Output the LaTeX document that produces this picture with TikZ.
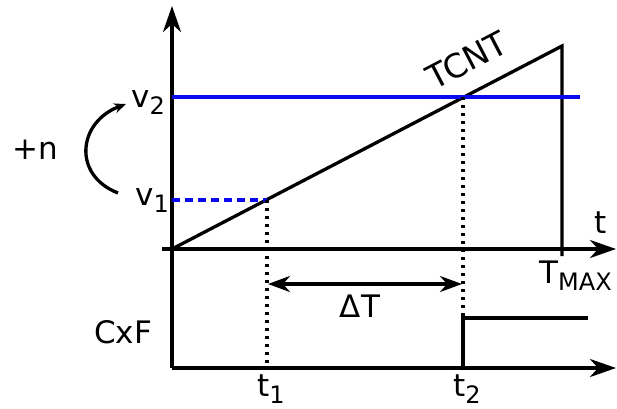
\documentclass[tikz,border=0pt]{standalone}
\usepackage{fontspec}
\setmainfont{DejaVu Sans}
\usetikzlibrary{arrows.meta,positioning}
\definecolor{level}{HTML}{0A0AF0}
\newcommand{\lowidx}[2]{#1{\fontsize{24}{24}\selectfont\raisebox{-7pt}{#2}}}
\tikzset{
  axis/.style={line width=3.4pt,-{Stealth[length=26pt,width=18pt,inset=8pt]}},
  trace/.style={line width=3.3pt},
  guide/.style={line width=3.2pt,dash pattern=on 3pt off 5pt},
  lbl/.style={font=\fontsize{31}{31}\selectfont,inner sep=0pt},
}

\begin{document}
\begin{tikzpicture}[x=1pt,y=-1pt]
\useasboundingbox (0,0) rectangle (617,408);
% points of the two plots
\coordinate (O) at (172,249);
\coordinate (ytop) at (172,6);
\coordinate (tl) at (162,249);
\coordinate (tr) at (616,249);
\coordinate (base) at (172,368);
\coordinate (br) at (616,368);
\coordinate (peak) at (562,46);
\coordinate (foot) at (562,256);
\coordinate (v1start) at (172,200);
\coordinate (v2start) at (172,97);
\coordinate (v2end) at (580,97);
\coordinate (c1) at (267,200);
\coordinate (c2) at (463,97);
\coordinate (t1foot) at (267,368);
\coordinate (t2foot) at (463,368);
\coordinate (d1) at (268,284);
\coordinate (d2) at (462,284);
\coordinate (stepup) at (463,318);
\coordinate (stepend) at (588,318);
\coordinate (nfrom) at (118,193);
\coordinate (nto) at (126,104);

% axes
\draw[axis] (base) -- (ytop);
\draw[axis] (tl) -- (tr);
\draw[axis] (base) -- (br);

% counter ramp and compare levels
\draw[trace,line join=miter] (O) -- (peak) -- (foot);
\draw[level,line width=3.4pt] (v2start) -- (v2end);
\draw[level,line width=3.2pt,dash pattern=on 8pt off 5pt] (v1start) -- (c1);
\draw[guide] (c1) -- (t1foot);
\draw[guide] (c2) -- (t2foot);

% flag output
\draw[trace] (t2foot) -- (stepup) -- (stepend);
\draw[trace,{Stealth[length=22pt,width=16pt,inset=7pt]}-{Stealth[length=22pt,width=16pt,inset=7pt]}] (d1) -- (d2);
\draw[trace,-{Stealth[length=12pt,width=10pt,inset=4pt]}] (nfrom) .. controls (72,175) and (78,122) .. (nto);

% labels
\node[lbl,anchor=base west] (v2) at (131,107) {\lowidx{v}{2}};
\node[lbl,anchor=base west] (v1) at (135,205) {\lowidx{v}{1}};
\node[lbl] (plusn) at (35,150) {+n};
\node[lbl,anchor=base west] (t) at (594,233) {t};
\node[lbl,anchor=base west] (tmax) at (539,283) {\lowidx{T}{MAX}};
\node[lbl,rotate=27.5,font=\fontsize{33}{33}\selectfont] (tcnt) at (467,60) {TCNT};
\node[lbl] (dT) at (360,306) {ΔT};
\node[lbl,anchor=base west] (cxf) at (94,343) {CxF};
\node[lbl,anchor=base west] (t1) at (257,396) {\lowidx{t}{1}};
\node[lbl,anchor=base west] (t2) at (453,396) {\lowidx{t}{2}};
\end{tikzpicture}
\end{document}
